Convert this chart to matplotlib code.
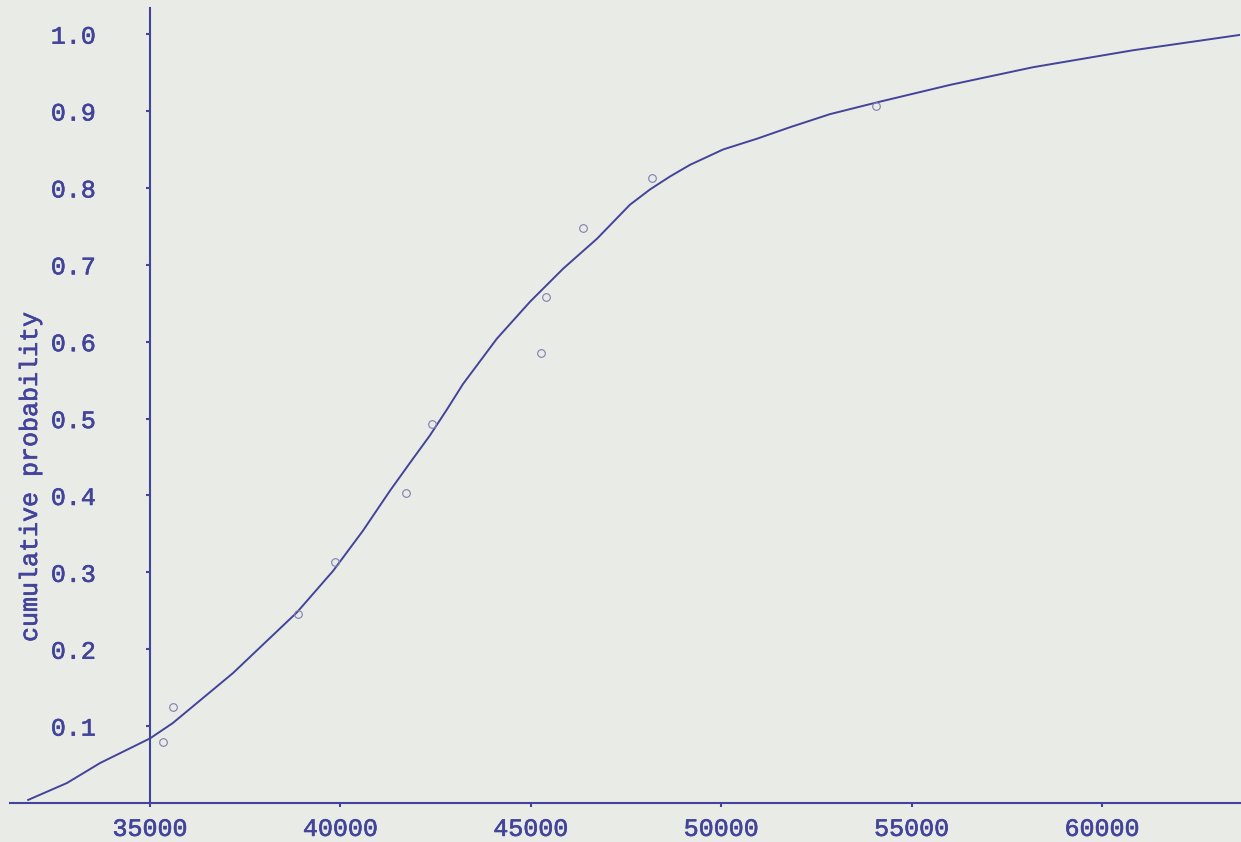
import matplotlib
matplotlib.use("Agg")
import matplotlib.pyplot as plt
import matplotlib.patheffects as pe

# Observed sample: value vs. cumulative probability
obs_x = [35340, 35600, 38890, 39860, 41720, 42400, 45270, 45400, 46370, 48180, 54070]
obs_p = [0.079, 0.125, 0.246, 0.314, 0.403, 0.493, 0.585, 0.658, 0.748, 0.813, 0.907]

# Fitted distribution curve, traced at successive values
fit_x = [31800, 32820, 33690, 35000, 35600, 37180, 38860, 39810, 40590, 41300,
         41850, 42350, 42800, 43220, 44110, 44980, 45850, 46740, 47600, 48130,
         48660, 49180, 50050, 50940, 51810, 52860, 54070, 56010, 58190, 60810,
         63620]
fit_p = [0.004, 0.026, 0.052, 0.084, 0.104, 0.169, 0.248, 0.302, 0.354, 0.406,
         0.444, 0.478, 0.512, 0.545, 0.604, 0.652, 0.695, 0.734, 0.778, 0.798,
         0.815, 0.830, 0.850, 0.864, 0.879, 0.896, 0.911, 0.934, 0.957, 0.979,
         0.999]

x_ticks = [35000, 40000, 45000, 50000, 55000, 60000]
x_labels = ["35000", "40000", "45000", "50000", "55000", "60000"]
y_ticks = [0.1, 0.2, 0.3, 0.4, 0.5, 0.6, 0.7, 0.8, 0.9, 1.0]
y_labels = ["0.1", "0.2", "0.3", "0.4", "0.5", "0.6", "0.7", "0.8", "0.9", "1.0"]

ink = "#43439a"
paper = "#e9ece6"
font = ["Liberation Mono", "DejaVu Sans Mono"]
heavy = [pe.withStroke(linewidth=0.45, foreground=ink)]

fig = plt.figure(figsize=(12.41, 8.42), dpi=100, facecolor=paper)
ax = fig.add_axes([10 / 1241, 39 / 842, 1230 / 1241, 795 / 842])
ax.set_facecolor(paper)

ax.plot(fit_x, fit_p, color=ink, lw=1.4, solid_joinstyle="round")
ax.plot(obs_x, obs_p, linestyle="none", marker="o", ms=5.5, mfc="none",
        mec="#7e7eb0", mew=0.8)

ax.set_xlim(31324, 63623)
ax.set_ylim(0, 1.034)

for side in ("top", "right"):
    ax.spines[side].set_visible(False)
ax.spines["left"].set_position(("data", 35000))
for side in ("left", "bottom"):
    ax.spines[side].set_color(ink)
    ax.spines[side].set_linewidth(1.5)

ax.set_xticks(x_ticks)
ax.set_xticklabels(x_labels)
ax.set_yticks(y_ticks)
ax.set_yticklabels(y_labels)
ax.tick_params(axis="both", direction="out", length=3, width=1.5, color=ink,
               labelcolor=ink, labelsize=18)
ax.tick_params(axis="x", pad=7)
ax.tick_params(axis="y", pad=36)
for lab in ax.get_xticklabels() + ax.get_yticklabels():
    lab.set_family(font)
    lab.set_path_effects(heavy)

fig.text(30 / 1241, 1 - 477 / 842, "cumulative probability", rotation=90,
         ha="center", va="center", color=ink, fontsize=18, family=font,
         path_effects=heavy)

fig.savefig("out.png", dpi=100, facecolor=paper)
